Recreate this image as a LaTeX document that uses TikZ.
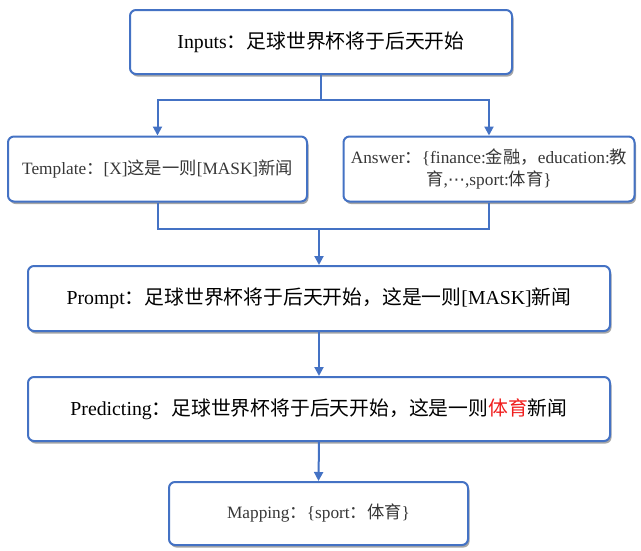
\documentclass[tikz,border=0pt]{standalone}
\usepackage{fontspec}
\setmainfont{Liberation Serif}
\newfontfamily\cjk{Noto Sans CJK SC}
\newfontfamily\symfont{DejaVu Sans}
\usetikzlibrary{arrows.meta,shadows}
\definecolor{boxblue}{RGB}{68,114,196}
\definecolor{txtgray}{RGB}{55,55,55}
\definecolor{hired}{RGB}{240,30,30}
\tikzset{
  flowbox/.style={draw=boxblue, line width=2pt, rounded corners=6pt, fill=white,
    drop shadow={shadow xshift=1.5pt, shadow yshift=-2.5pt, fill=black!50, opacity=0.7},
    align=center, inner sep=2pt},
  bigtxt/.style={font=\fontsize{19.8pt}{24pt}\selectfont, text=black},
  smalltxt/.style={font=\fontsize{17.3pt}{22pt}\selectfont, text=txtgray},
  link/.style={draw=boxblue, line width=2pt},
  arrowlink/.style={link, -{Triangle[length=9pt,width=9pt]}}
}
\begin{document}
\begin{tikzpicture}[x=1pt,y=1pt]
\useasboundingbox (0,0) rectangle (641,-550);
\node[flowbox, bigtxt, minimum width=382pt, minimum height=64pt] (inp) at (321,-42)
  {Inputs{\cjk ：足球世界杯将于后天开始}};
\node[flowbox, smalltxt, minimum width=299pt, minimum height=65pt] (tpl) at (157.5,-169)
  {Template{\cjk ：}[X]{\cjk 这是一则}[MASK]{\cjk 新闻}};
\node[flowbox, smalltxt, minimum width=291pt, minimum height=65pt] (ans) at (489,-169)
  {Answer{\cjk ：}\{finance:{\cjk 金融，}education:{\cjk 教}\\{\cjk 育},{\symfont ⋯},sport:{\cjk 体育}\}};
\node[flowbox, bigtxt, minimum width=582pt, minimum height=65pt] (prm) at (319,-298.5)
  {Prompt{\cjk ：足球世界杯将于后天开始，这是一则}[MASK]{\cjk 新闻}};
\node[flowbox, bigtxt, minimum width=582pt, minimum height=64pt] (prd) at (319,-409)
  {Predicting{\cjk ：足球世界杯将于后天开始，这是一则\textcolor{hired}{体育}新闻}};
\node[flowbox, smalltxt, minimum width=299pt, minimum height=63pt] (map) at (318.5,-513.5)
  {Mapping{\cjk ：}\{sport{\cjk ：体育}\}};
\coordinate (j1) at (321,-100);
\coordinate (j2) at (319,-229);
\draw[link] (inp.south) -- (j1);
\draw[arrowlink] (j1) -| (tpl.north);
\draw[arrowlink] (j1) -| (ans.north);
\draw[link] (tpl.south) |- (j2);
\draw[link] (ans.south) |- (j2);
\draw[arrowlink] (j2) -- (prm.north);
\draw[arrowlink] (prm.south) -- (prd.north);
\draw[arrowlink] (prd.south) -- (map.north);
\end{tikzpicture}
\end{document}
